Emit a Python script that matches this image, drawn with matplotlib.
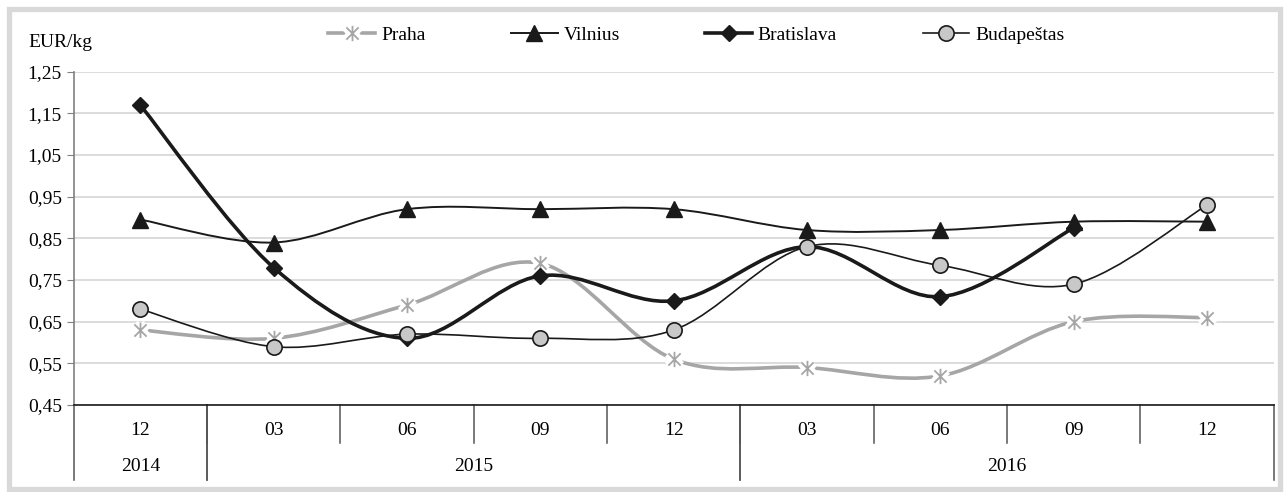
import numpy as np
import matplotlib.pyplot as plt
from matplotlib.path import Path
from matplotlib.patches import PathPatch, Rectangle
from matplotlib.lines import Line2D

plt.rcParams['font.family'] = ['Liberation Serif', 'DejaVu Serif']
plt.rcParams['font.size'] = 14

# duomenys
months = ['12', '03', '06', '09', '12', '03', '06', '09', '12']
years = ['2014', '2015', '2016']
year_spans = [(0, 1), (1, 5), (5, 9)]
praha = [0.63, 0.61, 0.69, 0.79, 0.56, 0.54, 0.52, 0.65, 0.66]
vilnius = [0.895, 0.84, 0.92, 0.92, 0.92, 0.87, 0.87, 0.89, 0.89]
bratislava = [1.17, 0.78, 0.61, 0.76, 0.70, 0.83, 0.71, 0.875, np.nan]
budapest = [0.68, 0.59, 0.62, 0.61, 0.63, 0.83, 0.785, 0.74, 0.93]
yticks = [0.45, 0.55, 0.65, 0.75, 0.85, 0.95, 1.05, 1.15, 1.25]

x = np.arange(len(months)) + 0.5


def smooth(ax, xs, ys, **kw):
    # Excel stiliaus suglodinta linija (Catmull-Rom -> Bezier)
    xs = np.asarray(xs, float)
    ys = np.asarray(ys, float)
    ok = ~np.isnan(ys)
    p = np.column_stack([xs[ok], ys[ok]])
    verts = [p[0]]
    codes = [Path.MOVETO]
    n = len(p)
    for i in range(n - 1):
        p0 = p[i - 1] if i > 0 else p[i]
        p3 = p[i + 2] if i + 2 < n else p[i + 1]
        c1 = p[i] + (p[i + 1] - p0) / 6
        c2 = p[i + 1] - (p3 - p[i]) / 6
        verts += [c1, c2, p[i + 1]]
        codes += [Path.CURVE4] * 3
    ax.add_patch(PathPatch(Path(verts, codes), fill=False, **kw))


star = Path([(-1, -1), (1, 1), (-1, 1), (1, -1), (0, -1.25), (0, 1.25)],
            [Path.MOVETO, Path.LINETO, Path.MOVETO, Path.LINETO, Path.MOVETO, Path.LINETO])

fig = plt.figure(figsize=(12.87, 4.92), dpi=100)
ax = fig.add_axes([73.6 / 1287, 87 / 492, 1200 / 1287, 333.3 / 492])

# rėmelis
fig.patches.append(Rectangle((9.2 / 1287, 3.0 / 492), 1270.5 / 1287, 480.5 / 492,
                             transform=fig.transFigure, fill=False,
                             edgecolor='#d9d9d9', linewidth=3.8))

gray = '#a6a6a6'
smooth(ax, x, praha, edgecolor=gray, linewidth=2.6, zorder=3)
ax.plot(x, praha, ls='none', marker=star, ms=11, mec='white', mew=7, zorder=3.1)
ax.plot(x, praha, ls='none', marker=star, ms=11, mec=gray, mew=1.3, zorder=3.2)

smooth(ax, x, vilnius, edgecolor='#1a1a1a', linewidth=1.4, zorder=4)
ax.plot(x, vilnius, ls='none', marker='^', ms=11, mfc='#1a1a1a', mec='#1a1a1a', zorder=4.1)

smooth(ax, x, bratislava, edgecolor='#1a1a1a', linewidth=2.6, zorder=5)
ax.plot(x, bratislava, ls='none', marker='D', ms=8, mfc='#1a1a1a', mec='#1a1a1a', zorder=5.1)

smooth(ax, x, budapest, edgecolor='#1a1a1a', linewidth=1.2, zorder=6)
ax.plot(x, budapest, ls='none', marker='o', ms=11, mfc='#c8c8c8', mec='#1a1a1a', mew=1.2, zorder=6.1)

ax.set_xlim(0, 9)
ax.set_ylim(0.45, 1.25)
ax.set_yticks(yticks)
ax.set_yticklabels([f'{v:.2f}'.replace('.', ',') for v in yticks])
ax.yaxis.grid(True, color='#d9d9d9', linewidth=1.3)
ax.set_axisbelow(True)
ax.set_xticks([])
ax.tick_params(axis='y', length=5, color='#808080', pad=3.5)
for s in ['top', 'right']:
    ax.spines[s].set_visible(False)
ax.spines['left'].set_color('#808080')
ax.spines['left'].set_linewidth(1.2)
ax.spines['bottom'].set_color('#1a1a1a')
ax.spines['bottom'].set_linewidth(1.2)

# kategorijų ašis
tr = ax.get_xaxis_transform()
for i in range(1, 9):
    ax.plot([i, i], [0, -0.114], transform=tr, color='#555555', lw=1.1, clip_on=False)
for a, b in year_spans:
    for xx in (a, b):
        ax.plot([xx, xx], [0, -0.225], transform=tr, color='#555555', lw=1.1, clip_on=False)
for xi, m in zip(x, months):
    ax.text(xi, -0.078, m, transform=tr, ha='center', va='center')
for (a, b), yr in zip(year_spans, years):
    ax.text((a + b) / 2, -0.186, yr, transform=tr, ha='center', va='center')

ax.text(-0.038, 1.089, 'EUR/kg', transform=ax.transAxes, ha='left', va='center')

h_praha = (Line2D([], [], color=gray, lw=2.6),
           Line2D([], [], ls='none', marker=star, ms=11, mec='white', mew=7),
           Line2D([], [], ls='none', marker=star, ms=11, mec=gray, mew=1.3))
h_vil = Line2D([], [], color='#1a1a1a', lw=1.4, marker='^', ms=11)
h_bra = Line2D([], [], color='#1a1a1a', lw=2.6, marker='D', ms=8)
h_bud = Line2D([], [], color='#1a1a1a', lw=1.2, marker='o', ms=11, mfc='#c8c8c8', mew=1.2)
ax.legend([h_praha, h_vil, h_bra, h_bud], ['Praha', 'Vilnius', 'Bratislava', 'Budapeštas'],
          ncol=4, loc='center', bbox_to_anchor=(0.519, 1.110), frameon=False,
          handlelength=2.4, handletextpad=0.3, columnspacing=4.4, borderaxespad=0)

fig.savefig('out.png', dpi=100)
